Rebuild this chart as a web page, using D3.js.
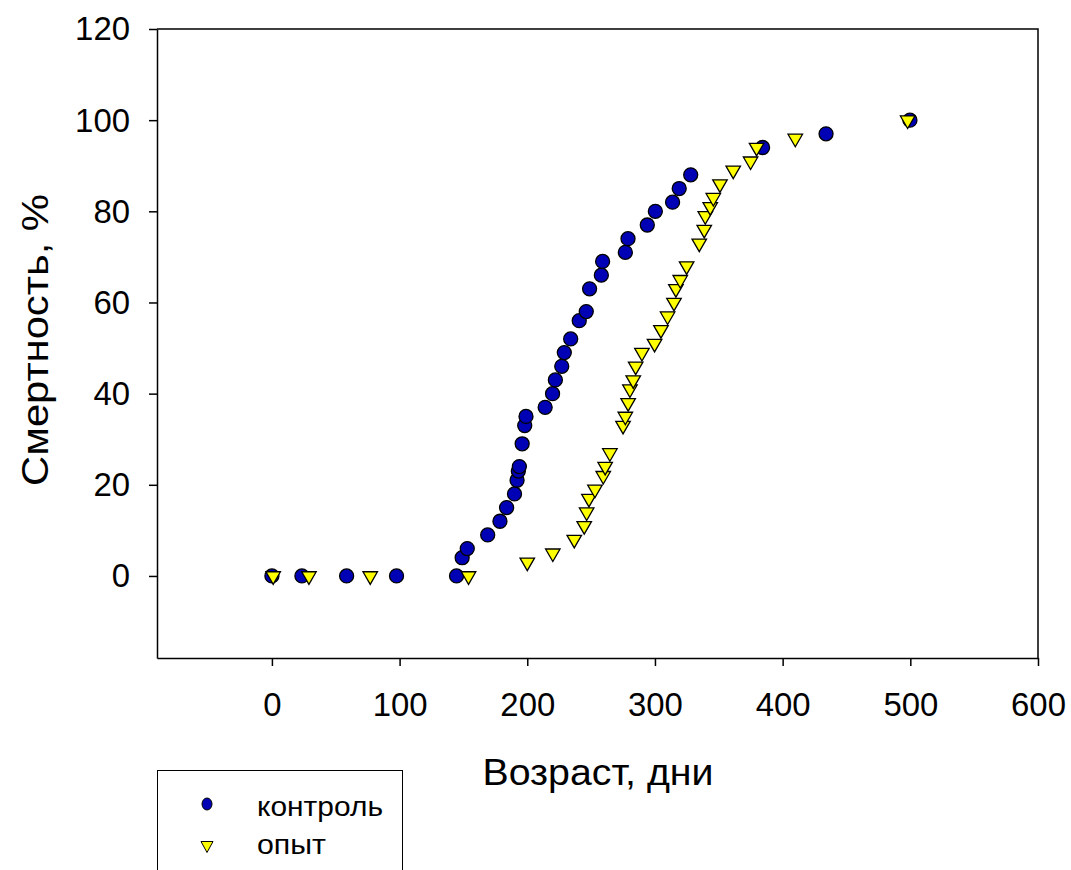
<!DOCTYPE html>
<html>
<head>
<meta charset="utf-8">
<script src="https://cdn.jsdelivr.net/npm/d3@7"></script>
<style>
  html, body { margin: 0; padding: 0; background: #fff; }
  svg { display: block; font-family: "Liberation Sans", Arial, sans-serif; }
</style>
</head>
<body>
<svg id="chart" width="1071" height="870"></svg>
<script>
// Mortality (%) by age (days), control vs. experiment group
const controlAge = [0, 23.5, 58.5, 97.6, 144.6, 149, 153, 169, 178.6, 183.8, 190, 192, 193, 193.8,
  196, 198, 199, 214, 219.8, 222, 227, 229, 234, 240.7, 246.2, 248.8, 258, 259, 276.8, 278.9,
  294, 300.3, 313.8, 319, 328, 384.3, 434, 499.7];
const controlMort = [0, 0, 0, 0, 0, 4, 6, 9, 12, 15, 18, 21, 23, 24,
  29, 33, 35, 37, 40, 43, 46, 49, 52, 56, 58, 63, 66, 69, 71, 74,
  77, 80, 82, 85, 88, 94, 97, 100];

const expAge = [1, 29, 77, 154, 200, 220, 236.8, 244.6, 246.5, 248.3, 253, 259.5, 261, 264.7,
  275, 276.8, 279, 280.4, 283, 284.9, 289.8, 299.7, 304.7, 309.9, 314.9, 316.4, 319.8, 324.8,
  334.7, 338.6, 339.4, 343.3, 345.7, 350.9, 361.3, 374.9, 379.6, 409.9, 497.9];
const expMort = [0, 0, 0, 0, 3, 5, 8, 11, 14, 17, 19, 22, 24, 27,
  33, 35, 38, 41, 43, 46, 49, 51, 54, 57, 60, 63, 65, 68,
  73, 76, 79, 81, 83, 86, 89, 91, 94, 96, 100];

const xTicks = [0, 100, 200, 300, 400, 500, 600];
const yTicks = [0, 20, 40, 60, 80, 100, 120];
const seriesNames = ["контроль", "опыт"];
const xTitle = "Возраст, дни";
const yTitle = "Смертность, %";

const svg = d3.select("#chart");

const plotL = 157, plotR = 1038, plotT = 29, plotB = 658;
const x = d3.scaleLinear().domain([-90, 600]).range([plotL, plotR]);
const y = d3.scaleLinear().domain([-18, 120]).range([plotB, plotT]);

// Frame: top and right edges
svg.append("path")
  .attr("d", `M${plotL},${plotT}H${plotR}V${plotB}`)
  .attr("fill", "none").attr("stroke", "#000").attr("stroke-width", 1.5);

const xAxis = svg.append("g")
  .attr("transform", `translate(0,${plotB})`)
  .call(d3.axisBottom(x).tickValues(xTicks).tickSize(8).tickSizeOuter(0).tickPadding(26));
const yAxis = svg.append("g")
  .attr("transform", `translate(${plotL},0)`)
  .call(d3.axisLeft(y).tickValues(yTicks).tickSize(8).tickSizeOuter(0).tickPadding(19));

// Slightly condensed tick labels
[xAxis, yAxis].forEach(g => {
  g.select(".domain").attr("stroke-width", 1.5);
  g.selectAll(".tick line").attr("stroke-width", 1.5);
  g.selectAll(".tick text")
    .attr("font-family", "'Liberation Sans', Arial, sans-serif")
    .attr("font-size", 34).attr("fill", "#000")
    .attr("textLength", function () { return this.textContent.length * 18.3; })
    .attr("lengthAdjust", "spacingAndGlyphs");
});

// Axis titles
svg.append("text")
  .attr("x", 598).attr("y", 785)
  .attr("text-anchor", "middle")
  .attr("font-size", 37)
  .attr("textLength", 231).attr("lengthAdjust", "spacingAndGlyphs")
  .text(xTitle);
svg.append("text")
  .attr("transform", "translate(48,340) rotate(-90)")
  .attr("text-anchor", "middle")
  .attr("font-size", 37)
  .attr("textLength", 292).attr("lengthAdjust", "spacingAndGlyphs")
  .text(yTitle);

// Downward triangle, centred on its centroid
function downTri(s) {
  const h = s * Math.sqrt(3) / 2;
  return `M${-s / 2},${-h / 3}L${s / 2},${-h / 3}L0,${2 * h / 3}Z`;
}

const ctrl = controlAge.map((a, i) => ({ a, m: controlMort[i] }));
const exp = expAge.map((a, i) => ({ a, m: expMort[i] }));

svg.append("g").selectAll("circle").data(ctrl).join("circle")
  .attr("cx", d => x(d.a)).attr("cy", d => y(d.m))
  .attr("r", 7)
  .attr("fill", "#0000b4").attr("stroke", "#000").attr("stroke-width", 1.3);

svg.append("g").selectAll("path").data(exp).join("path")
  .attr("transform", d => `translate(${x(d.a)},${y(d.m)})`)
  .attr("d", downTri(14.5))
  .attr("fill", "#ffff00").attr("stroke", "#000").attr("stroke-width", 1.3)
  .attr("stroke-linejoin", "miter");

// Legend
const lg = svg.append("g");
lg.append("rect")
  .attr("x", 157.5).attr("y", 770.5).attr("width", 245).attr("height", 120)
  .attr("fill", "#fff").attr("stroke", "#000").attr("stroke-width", 1);
lg.append("ellipse")
  .attr("cx", 207).attr("cy", 804).attr("rx", 5).attr("ry", 6)
  .attr("fill", "#0000b4").attr("stroke", "#000").attr("stroke-width", 1);
lg.append("path")
  .attr("transform", "translate(207,846)")
  .attr("d", "M-6,-4.5L6,-4.5L0,6.5Z")
  .attr("fill", "#ffff00").attr("stroke", "#000").attr("stroke-width", 1);
lg.selectAll("text").data(seriesNames).join("text")
  .attr("x", 257).attr("y", (d, i) => 816 + i * 38)
  .attr("font-size", 28)
  .attr("textLength", (d, i) => i === 0 ? 126 : 69)
  .attr("lengthAdjust", "spacingAndGlyphs")
  .text(d => d);
</script>
</body>
</html>
